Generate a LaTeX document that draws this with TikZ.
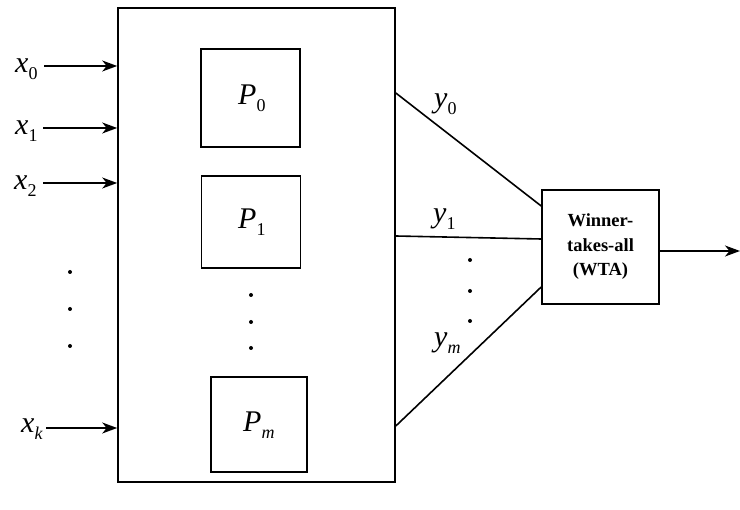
\documentclass[tikz,border=0pt]{standalone}
\usepackage{fontspec}
\setmainfont{Liberation Serif}
\usetikzlibrary{arrows.meta}
\newcommand\lbl[2]{\textit{#1}\raisebox{-7pt}{\fontsize{18}{18}\selectfont #2}}
\begin{document}
\begin{tikzpicture}[x=1pt,y=-1pt,
  box/.style={draw,line width=1.6pt,inner sep=0pt},
  lab/.style={font=\fontsize{30}{30}\selectfont,inner sep=0pt,anchor=base west},
  wire/.style={line width=1.6pt},
  arr/.style={line width=1.6pt,-{Stealth[length=15pt,width=11pt,inset=4.5pt]}},
  dot/.style={circle,fill,inner sep=0pt,minimum size=4pt}]
\useasboundingbox (0,0) rectangle (740,510);
% boxes
\node[box,minimum width=277pt,minimum height=474pt] (main) at (256.5,245) {};
\node[box,minimum width=99pt,minimum height=98pt] (p0) at (250.5,98) {};
\node[box,minimum width=99pt,minimum height=92pt] (p1) at (251,222) {};
\node[box,minimum width=96pt,minimum height=95pt] (pm) at (259,424.5) {};
\node[box,minimum width=117pt,minimum height=114pt,align=center,
  font=\fontsize{18.5}{24.5}\selectfont\bfseries] (wta) at (600.5,247) {Winner-\\takes-all\\(WTA)};
% box labels
\node[lab] (lp0) at (238,105) {\lbl{P}{0}};
\node[lab] (lp1) at (238,229) {\lbl{P}{1}};
\node[lab] (lpm) at (243,432) {\lbl{P}{\textit{m}}};
% inputs
\node[lab] (x0) at (15,73) {\lbl{x}{0}};
\node[lab] (x1) at (15,135) {\lbl{x}{1}};
\node[lab] (x2) at (14,190) {\lbl{x}{2}};
\node[lab] (xk) at (21,433) {\lbl{x}{\textit{k}}};
\coordinate (s0) at (44,66);
\coordinate (s1) at (43,128);
\coordinate (s2) at (43,183);
\coordinate (sk) at (46,428);
\draw[arr] (s0) -- (s0 -| main.west);
\draw[arr] (s1) -- (s1 -| main.west);
\draw[arr] (s2) -- (s2 -| main.west);
\draw[arr] (sk) -- (sk -| main.west);
% dots
\foreach \i/\y in {1/272,2/309,3/346} \node[dot] (ld\i) at (70,\y) {};
\foreach \i/\y in {1/295,2/322,3/348} \node[dot] (md\i) at (251,\y) {};
\foreach \i/\y in {1/260,2/291,3/321} \node[dot] (rd\i) at (470,\y) {};
% outputs
\draw[wire] (main.east |- 0,93) -- (wta.west |- 0,206);
\draw[wire] (main.east |- 0,236) -- (wta.west |- 0,239);
\draw[wire] (main.east |- 0,426) -- (wta.west |- 0,287);
\node[lab] (y0) at (434,108) {\lbl{y}{0}};
\node[lab] (y1) at (433,223) {\lbl{y}{1}};
\node[lab] (ym) at (434,347) {\lbl{y}{\textit{m}}};
\coordinate (out) at (740,251);
\draw[arr] (wta.east |- out) -- (out);
\end{tikzpicture}
\end{document}
